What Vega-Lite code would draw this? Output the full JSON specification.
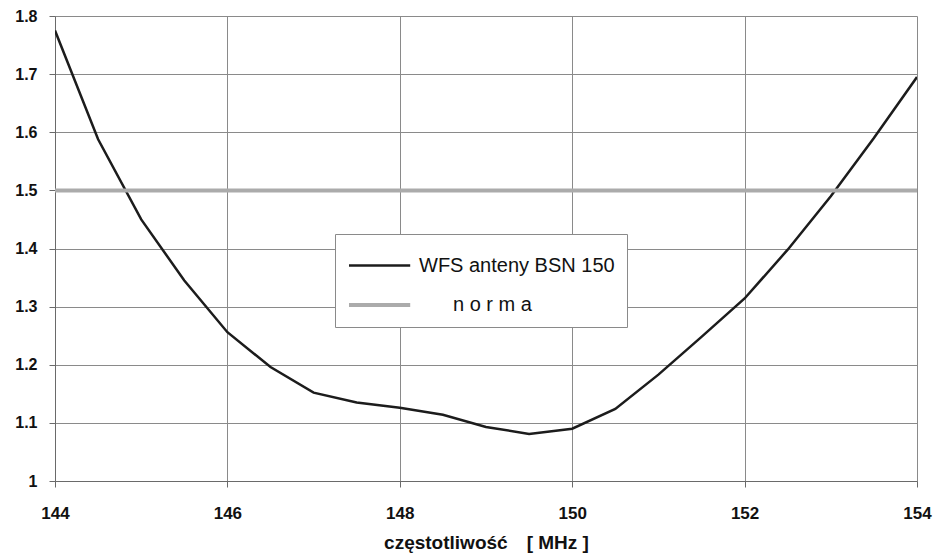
{
  "$schema": "https://vega.github.io/schema/vega-lite/v6.json",
  "width": 862,
  "height": 465,
  "autosize": {"type": "none"},
  "padding": {"left": 55, "top": 16, "right": 16, "bottom": 74},
  "background": "white",
  "config": {
    "view": {"stroke": null},
    "font": "Liberation Sans",
    "axis": {
      "gridColor": "#8a8a8a",
      "gridWidth": 1,
      "gridOpacity": 1,
      "domainColor": "#6a6a6a",
      "tickColor": "#6a6a6a",
      "tickSize": 6,
      "labelColor": "#111111",
      "labelFont": "Liberation Sans",
      "labelFontWeight": "bold",
      "labelFontSize": 16,
      "titleColor": "#111111"
    }
  },
  "data": {
    "values": [
      {"f": 144, "v": 1.775, "s": "WFS anteny BSN 150"},
      {"f": 144.5, "v": 1.588, "s": "WFS anteny BSN 150"},
      {"f": 145, "v": 1.45, "s": "WFS anteny BSN 150"},
      {"f": 145.5, "v": 1.345, "s": "WFS anteny BSN 150"},
      {"f": 146, "v": 1.256, "s": "WFS anteny BSN 150"},
      {"f": 146.5, "v": 1.196, "s": "WFS anteny BSN 150"},
      {"f": 147, "v": 1.152, "s": "WFS anteny BSN 150"},
      {"f": 147.5, "v": 1.135, "s": "WFS anteny BSN 150"},
      {"f": 148, "v": 1.126, "s": "WFS anteny BSN 150"},
      {"f": 148.5, "v": 1.114, "s": "WFS anteny BSN 150"},
      {"f": 149, "v": 1.093, "s": "WFS anteny BSN 150"},
      {"f": 149.5, "v": 1.081, "s": "WFS anteny BSN 150"},
      {"f": 150, "v": 1.09, "s": "WFS anteny BSN 150"},
      {"f": 150.5, "v": 1.124, "s": "WFS anteny BSN 150"},
      {"f": 151, "v": 1.183, "s": "WFS anteny BSN 150"},
      {"f": 151.5, "v": 1.248, "s": "WFS anteny BSN 150"},
      {"f": 152, "v": 1.314, "s": "WFS anteny BSN 150"},
      {"f": 152.5, "v": 1.398, "s": "WFS anteny BSN 150"},
      {"f": 153, "v": 1.49, "s": "WFS anteny BSN 150"},
      {"f": 153.5, "v": 1.59, "s": "WFS anteny BSN 150"},
      {"f": 154, "v": 1.695, "s": "WFS anteny BSN 150"},
      {"f": 144, "v": 1.5, "s": "norma"},
      {"f": 154, "v": 1.5, "s": "norma"}
    ]
  },
  "mark": {"type": "line", "clip": true},
  "encoding": {
    "x": {
      "field": "f",
      "type": "quantitative",
      "scale": {"domain": [144, 154], "nice": false, "zero": false},
      "axis": {
        "values": [144, 146, 148, 150, 152, 154],
        "title": "częstotliwość\u2002\u2002[ MHz ]",
        "titleFontSize": 19,
        "titleFontWeight": "bold",
        "titlePadding": 12,
        "labelPadding": 18,
        "labelFontSize": 17,
        "labelFlush": false
      }
    },
    "y": {
      "field": "v",
      "type": "quantitative",
      "scale": {"domain": [1, 1.8], "nice": false, "zero": false},
      "axis": {
        "values": [1, 1.1, 1.2, 1.3, 1.4, 1.5, 1.6, 1.7, 1.8],
        "format": "~g",
        "title": null,
        "labelPadding": 12
      }
    },
    "color": {
      "field": "s",
      "type": "nominal",
      "scale": {"domain": ["WFS anteny BSN 150", "norma"], "range": ["#1c1c1c", "#ababab"]},
      "legend": {
        "title": null,
        "orient": "none",
        "legendX": 280,
        "legendY": 218,
        "fillColor": "white",
        "strokeColor": "#8a8a8a",
        "padding": 12,
        "rowPadding": 9,
        "symbolType": "M-1,0H2.4",
        "symbolSize": 1296,
        "symbolStrokeWidth": 3,
        "labelFontSize": 20,
        "labelFont": "Liberation Sans",
        "labelColor": "#111111",
        "labelOffset": 32,
        "labelLimit": 400,
        "labelExpr": "datum.label == 'norma' ? '\u200b\u2002\u2002\u2002\u2009n o r m a' : datum.label"
      }
    },
    "strokeWidth": {
      "field": "s",
      "type": "nominal",
      "scale": {"domain": ["WFS anteny BSN 150", "norma"], "range": [2.5, 4]},
      "legend": null
    }
  }
}
